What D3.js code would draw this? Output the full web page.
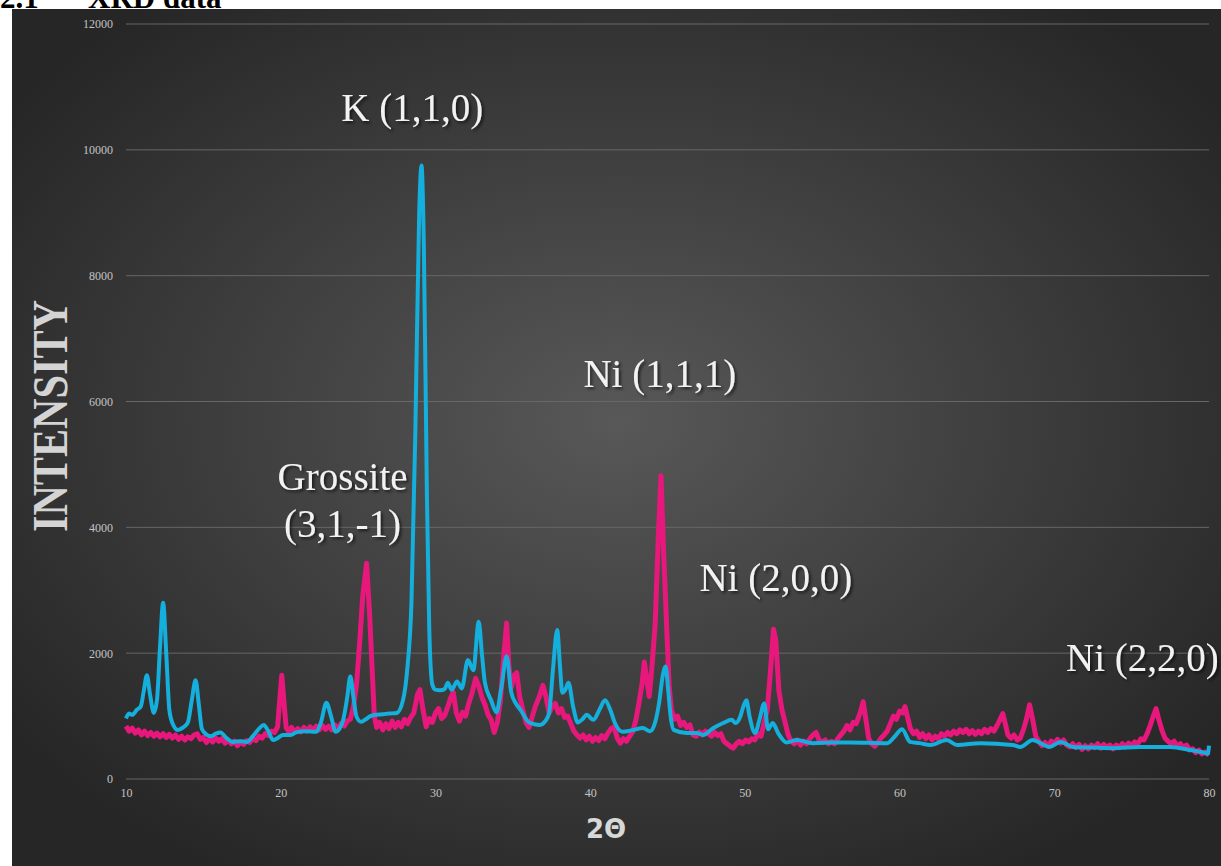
<!DOCTYPE html>
<html>
<head>
<meta charset="utf-8">
<script src="https://cdn.jsdelivr.net/npm/d3@7"></script>
<style>
  body { margin: 0; background: #fff; }
  svg { display: block; }
</style>
</head>
<body>
<svg id="chart" width="1221" height="866"></svg>
<script>
// tick values
let yTicks = [0, 2000, 4000, 6000, 8000, 10000, 12000]
let xTicks = [10, 20, 30, 40, 50, 60, 70, 80]

// peak labels [2theta, intensity-ish anchor, text]
let peakLabels = [
  [28.5, 10460, 'K (1,1,0)'],
  [44.5, 6230, 'Ni (1,1,1)'],
  [24.0, 4600, 'Grossite'],
  [24.0, 3850, '(3,1,-1)'],
  [52.0, 2990, 'Ni (2,0,0)'],
  [75.7, 1720, 'Ni (2,2,0)']
]

// pink sample (noisy)
let pinkSeries = [[10.0,840],[10.2,760],[10.4,810],[10.6,730],[10.8,780],[11.0,700],[11.2,760],[11.4,690],[11.6,740],[11.8,680],[12.0,730],[12.2,670],[12.4,720],[12.6,660],[12.8,710],[13.0,650],[13.2,700],[13.4,630],[13.6,680],[13.8,620],[14.0,670],[14.2,640],[14.4,700],[14.6,720],[14.8,630],[15.0,660],[15.2,580],[15.4,640],[15.6,590],[15.8,650],[16.0,600],[16.2,640],[16.4,570],[16.6,620],[16.8,560],[17.0,600],[17.2,530],[17.4,590],[17.6,550],[17.8,610],[18.0,580],[18.2,640],[18.4,610],[18.6,680],[18.8,650],[19.0,720],[19.2,690],[19.4,760],[19.6,740],[19.8,830],[19.95,1300],[20.07,1650],[20.2,1250],[20.35,820],[20.5,760],[20.7,820],[20.9,740],[21.1,800],[21.3,750],[21.5,820],[21.7,760],[21.9,830],[22.1,770],[22.3,840],[22.5,780],[22.7,850],[22.9,790],[23.1,840],[23.3,780],[23.5,860],[23.7,800],[23.9,880],[24.1,840],[24.3,920],[24.5,950],[24.7,1150],[24.9,1500],[25.1,2150],[25.3,2900],[25.55,3430],[25.75,2600],[25.9,1800],[26.05,1000],[26.2,820],[26.4,900],[26.6,780],[26.8,880],[27.0,800],[27.2,920],[27.4,820],[27.6,900],[27.8,830],[28.0,950],[28.2,880],[28.4,980],[28.6,1050],[28.85,1350],[29.0,1420],[29.2,1100],[29.4,830],[29.6,960],[29.8,900],[30.0,1050],[30.2,1120],[30.4,960],[30.6,1010],[30.8,1150],[31.0,1300],[31.15,1380],[31.35,1050],[31.55,920],[31.75,1060],[31.95,1000],[32.15,1200],[32.35,1350],[32.6,1600],[32.8,1480],[33.0,1300],[33.2,1180],[33.4,1020],[33.6,940],[33.8,740],[34.0,900],[34.2,1250],[34.4,1900],[34.6,2480],[34.75,1800],[34.9,1450],[35.1,1650],[35.25,1690],[35.45,1300],[35.65,1100],[35.85,900],[36.05,820],[36.25,980],[36.45,1150],[36.7,1300],[36.95,1490],[37.15,1300],[37.35,1050],[37.55,1150],[37.75,1200],[37.95,1050],[38.15,1120],[38.35,980],[38.55,1000],[38.75,880],[38.95,760],[39.15,700],[39.35,650],[39.55,700],[39.75,620],[39.95,680],[40.15,600],[40.35,660],[40.55,610],[40.75,690],[40.95,640],[41.15,730],[41.35,800],[41.55,830],[41.75,650],[41.95,570],[42.15,640],[42.35,600],[42.55,680],[42.75,750],[42.95,930],[43.15,1200],[43.35,1500],[43.5,1860],[43.65,1600],[43.82,1310],[44.0,1800],[44.2,2450],[44.4,3800],[44.58,4820],[44.75,3600],[44.95,2400],[45.1,1500],[45.25,1100],[45.45,950],[45.65,1000],[45.85,850],[46.05,900],[46.25,820],[46.45,860],[46.65,700],[46.85,680],[47.05,750],[47.25,700],[47.45,760],[47.65,720],[47.85,680],[48.05,740],[48.25,690],[48.45,720],[48.65,600],[48.85,560],[49.05,520],[49.25,490],[49.45,560],[49.65,600],[49.85,560],[50.05,620],[50.25,590],[50.45,640],[50.65,620],[50.85,720],[51.05,680],[51.25,900],[51.45,1100],[51.65,1700],[51.85,2380],[52.0,2200],[52.2,1400],[52.4,1100],[52.6,900],[52.8,700],[53.0,600],[53.2,560],[53.4,620],[53.6,540],[53.8,600],[54.0,560],[54.2,640],[54.4,700],[54.6,740],[54.8,620],[55.0,580],[55.2,620],[55.4,560],[55.6,600],[55.8,560],[56.0,640],[56.2,700],[56.4,760],[56.6,850],[56.8,780],[57.0,900],[57.2,880],[57.45,1050],[57.65,1230],[57.85,900],[58.0,650],[58.2,560],[58.4,520],[58.6,580],[58.8,650],[59.0,700],[59.2,760],[59.4,880],[59.6,1000],[59.8,950],[60.0,1080],[60.2,1050],[60.35,1150],[60.5,1000],[60.7,800],[60.9,720],[61.1,760],[61.3,660],[61.5,720],[61.7,640],[61.9,700],[62.1,620],[62.3,680],[62.5,640],[62.7,720],[62.9,680],[63.1,740],[63.3,700],[63.5,760],[63.7,720],[63.9,780],[64.1,740],[64.3,790],[64.5,720],[64.7,770],[64.9,710],[65.1,760],[65.3,720],[65.5,790],[65.7,740],[65.9,800],[66.1,760],[66.3,850],[66.5,950],[66.67,1040],[66.85,860],[67.0,700],[67.2,650],[67.4,700],[67.6,620],[67.8,650],[68.0,780],[68.2,950],[68.4,1180],[68.6,950],[68.8,680],[69.0,600],[69.2,530],[69.4,580],[69.6,520],[69.8,600],[70.0,560],[70.2,630],[70.4,570],[70.6,620],[70.8,540],[71.0,510],[71.2,560],[71.4,500],[71.6,550],[71.8,470],[72.0,530],[72.2,480],[72.4,540],[72.6,500],[72.8,560],[73.0,490],[73.2,550],[73.4,500],[73.6,540],[73.8,480],[74.0,540],[74.2,500],[74.4,560],[74.6,510],[74.8,570],[75.0,530],[75.2,590],[75.4,560],[75.6,640],[75.8,620],[76.0,720],[76.2,850],[76.4,1000],[76.58,1120],[76.75,950],[76.95,780],[77.15,650],[77.35,600],[77.55,560],[77.75,600],[77.95,520],[78.15,560],[78.35,500],[78.55,540],[78.75,460],[78.95,480],[79.15,420],[79.35,460],[79.55,400],[79.75,430],[80.0,380]]

// blue sample (smooth)
let blueSeries = [[10.0,960],[10.2,1040],[10.4,1020],[10.7,1100],[10.95,1150],[11.15,1400],[11.35,1650],[11.55,1350],[11.8,1050],[12.0,1250],[12.2,2100],[12.4,2800],[12.6,2000],[12.8,1100],[13.0,890],[13.35,780],[13.7,820],[14.0,900],[14.25,1250],[14.5,1570],[14.7,1200],[14.9,800],[15.1,730],[15.5,680],[15.8,720],[16.1,740],[16.5,650],[16.9,590],[17.4,600],[17.8,590],[18.2,680],[18.6,800],[18.9,860],[19.2,760],[19.5,620],[19.8,650],[20.15,700],[20.6,700],[21.0,740],[21.6,760],[22.3,750],[22.6,900],[22.95,1210],[23.25,1000],[23.55,750],[23.8,800],[24.05,950],[24.3,1300],[24.5,1630],[24.7,1300],[24.9,990],[25.2,910],[25.5,950],[25.8,1000],[26.1,1020],[26.6,1030],[27.0,1040],[27.5,1050],[27.9,1250],[28.2,1800],[28.45,2800],[28.7,5500],[28.95,9000],[29.1,9750],[29.25,8500],[29.45,4500],[29.6,2400],[29.8,1500],[30.0,1420],[30.3,1410],[30.6,1430],[30.8,1530],[31.05,1420],[31.4,1550],[31.7,1440],[32.1,1890],[32.45,1730],[32.8,2500],[33.0,2000],[33.2,1530],[33.6,1250],[33.94,1060],[34.26,1450],[34.6,1950],[34.9,1380],[35.2,1200],[35.5,1100],[36.0,910],[36.4,870],[36.76,860],[37.1,920],[37.35,1050],[37.6,1750],[37.87,2370],[38.05,1800],[38.2,1370],[38.4,1420],[38.6,1530],[38.9,1150],[39.2,900],[39.5,950],[39.78,1020],[40.2,940],[40.6,1100],[40.96,1250],[41.3,1100],[41.6,890],[42.1,750],[42.8,780],[43.4,810],[43.87,760],[44.2,900],[44.45,1200],[44.7,1650],[44.88,1790],[45.05,1400],[45.2,1000],[45.4,780],[46.24,730],[46.9,730],[47.3,700],[47.97,810],[48.6,890],[49.15,940],[49.4,890],[49.7,990],[49.9,1150],[50.1,1250],[50.3,1000],[50.66,730],[50.95,950],[51.25,1200],[51.5,790],[51.8,890],[52.15,730],[52.7,580],[53.35,620],[54.4,570],[55.7,580],[56.8,580],[58.0,575],[59.2,570],[59.7,680],[60.16,790],[60.68,590],[61.3,570],[62.0,540],[63.05,620],[63.7,540],[65.2,570],[67.3,540],[67.8,510],[68.6,620],[69.1,570],[69.7,510],[70.4,590],[71.2,510],[72.5,500],[73.8,490],[75.5,510],[77.5,510],[78.8,460],[79.8,410],[79.92,400],[80.0,530]]

let svg = d3.select('#chart')
let width = 1221
let height = 866
let margin = {left: 126, right: 12, top: 24, bottom: 87}

// the white page strip and the cut-off heading above the chart
svg.append('text')
  .attr('x', 0).attr('y', 8)
  .style('font-family', '"Liberation Serif", serif')
  .style('font-weight', 'bold')
  .style('font-size', '31px')
  .attr('fill', '#000')
  .text('2.1')
svg.append('text')
  .attr('x', 88).attr('y', 8)
  .style('font-family', '"Liberation Serif", serif')
  .style('font-weight', 'bold')
  .style('font-size', '31px')
  .attr('fill', '#000')
  .text('XRD data')

let defs = svg.append('defs')
let grad = defs.append('radialGradient')
  .attr('id', 'bg')
  .attr('cx', '50%').attr('cy', '48%').attr('r', '62%')
grad.append('stop').attr('offset', '0%').attr('stop-color', '#585858')
grad.append('stop').attr('offset', '100%').attr('stop-color', '#262626')

let shadow = defs.append('filter').attr('id', 'shadow')
  .attr('x', '-10%').attr('y', '-20%').attr('width', '120%').attr('height', '140%')
shadow.append('feDropShadow')
  .attr('dx', 2).attr('dy', 2).attr('stdDeviation', 1.5)
  .attr('flood-color', '#000').attr('flood-opacity', 0.6)

svg.append('rect')
  .attr('x', 12).attr('y', 9)
  .attr('width', width - 12).attr('height', height - 9)
  .attr('fill', 'url(#bg)')

let x = d3.scaleLinear().domain([10, 80]).range([margin.left, width - margin.right])
let y = d3.scaleLinear().domain([0, 12000]).range([height - margin.bottom, margin.top])

// gridlines
svg.append('g')
  .selectAll('line')
  .data(yTicks)
  .enter()
  .append('line')
  .attr('x1', x(10)).attr('x2', x(80))
  .attr('y1', d => y(d)).attr('y2', d => y(d))
  .attr('stroke', '#676767')
  .attr('stroke-width', 1)

let yAxis = svg.append('g')
  .attr('transform', `translate(${margin.left},0)`)
  .call(d3.axisLeft(y).tickValues(yTicks).tickFormat(d3.format('d')).tickSize(0).tickPadding(13))
yAxis.select('.domain').remove()
yAxis.selectAll('text')
  .attr('fill', '#c4c4c4')
  .style('font-family', '"Liberation Serif", serif')
  .style('font-size', '12px')

let xAxis = svg.append('g')
  .attr('transform', `translate(0,${height - margin.bottom})`)
  .call(d3.axisBottom(x).tickValues(xTicks).tickSize(0).tickPadding(9))
xAxis.select('.domain').remove()
xAxis.selectAll('text')
  .attr('fill', '#c4c4c4')
  .style('font-family', '"Liberation Serif", serif')
  .style('font-size', '12px')

// axis titles
svg.append('text')
  .attr('transform', 'translate(67,416) rotate(-90)')
  .attr('text-anchor', 'middle')
  .attr('textLength', 232)
  .attr('lengthAdjust', 'spacingAndGlyphs')
  .style('font-family', '"Liberation Serif", serif')
  .style('font-weight', 'bold')
  .style('font-size', '50px')
  .attr('fill', '#d4d4d4')
  .text('INTENSITY')

svg.append('text')
  .attr('x', 606).attr('y', 838)
  .attr('text-anchor', 'middle')
  .style('font-family', '"DejaVu Sans", sans-serif')
  .style('font-weight', 'bold')
  .style('font-size', '26px')
  .attr('fill', '#d8d8d8')
  .text('2Θ')

let pinkLine = d3.line()
  .x(d => x(d[0]))
  .y(d => y(d[1]))

let blueLine = d3.line()
  .x(d => x(d[0]))
  .y(d => y(d[1]))
  .curve(d3.curveMonotoneX)

svg.append('path')
  .datum(pinkSeries)
  .attr('d', pinkLine)
  .attr('fill', 'none')
  .attr('stroke', '#e8177b')
  .attr('stroke-width', 5)
  .attr('stroke-linejoin', 'round')

svg.append('path')
  .datum(blueSeries)
  .attr('d', blueLine)
  .attr('fill', 'none')
  .attr('stroke', '#14afdc')
  .attr('stroke-width', 4)
  .attr('stroke-linejoin', 'round')

svg.append('g')
  .selectAll('text')
  .data(peakLabels)
  .enter()
  .append('text')
  .attr('x', d => x(d[0]))
  .attr('y', d => y(d[1]))
  .attr('text-anchor', 'middle')
  .attr('filter', 'url(#shadow)')
  .style('font-family', '"Liberation Serif", serif')
  .style('font-size', '39px')
  .attr('fill', '#f2f2f2')
  .text(d => d[2])
</script>
</body>
</html>
